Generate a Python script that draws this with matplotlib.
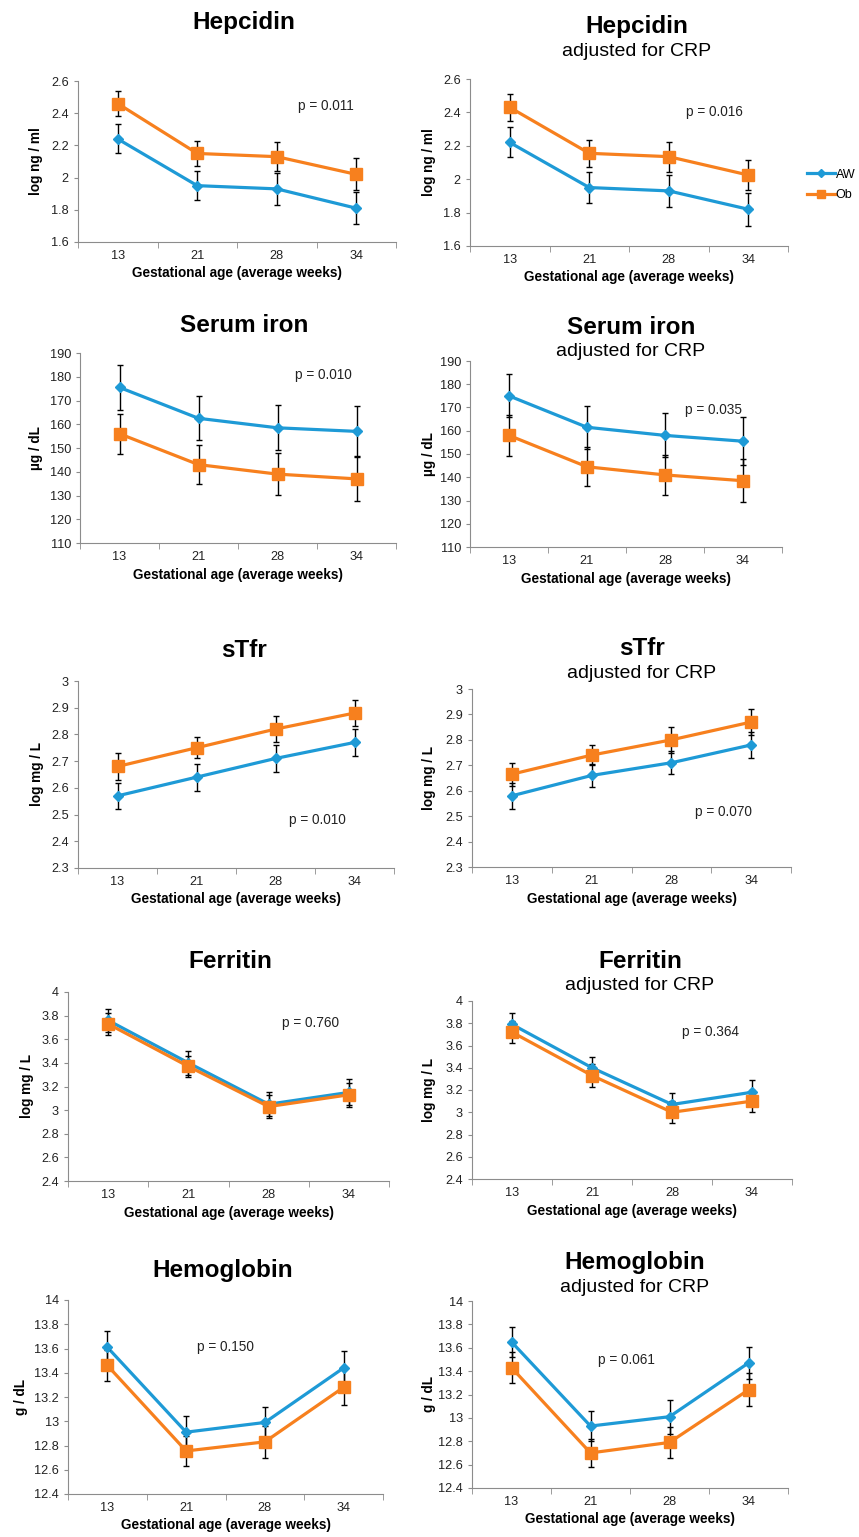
import numpy as np
import matplotlib.pyplot as plt
from matplotlib.lines import Line2D

plt.rcParams['font.family'] = ['Liberation Sans', 'DejaVu Sans']

# gestational age categories
weeks = ['13', '21', '28', '34']

# hepcidin (log ng/ml)
hep_aw = [2.24, 1.95, 1.93, 1.81]
hep_aw_err = [0.09, 0.09, 0.10, 0.10]
hep_ob = [2.46, 2.15, 2.13, 2.02]
hep_ob_err = [0.08, 0.08, 0.09, 0.10]
hep_adj_aw = [2.22, 1.95, 1.93, 1.82]
hep_adj_aw_err = [0.09, 0.095, 0.095, 0.10]
hep_adj_ob = [2.43, 2.155, 2.135, 2.025]
hep_adj_ob_err = [0.08, 0.08, 0.09, 0.09]

# serum iron (ug/dL)
fe_aw = [175.5, 162.5, 158.5, 157.0]
fe_aw_err = [9.3, 9.2, 9.5, 10.5]
fe_ob = [156.0, 143.0, 139.0, 137.0]
fe_ob_err = [8.5, 8.3, 8.7, 9.3]
fe_adj_aw = [175.0, 161.5, 158.0, 155.5]
fe_adj_aw_err = [9.2, 9.2, 9.5, 10.3]
fe_adj_ob = [158.0, 144.5, 141.0, 138.5]
fe_adj_ob_err = [8.7, 8.3, 8.7, 9.2]

# sTfr (log mg/L)
stfr_aw = [2.57, 2.64, 2.71, 2.77]
stfr_aw_err = [0.05, 0.05, 0.05, 0.05]
stfr_ob = [2.68, 2.75, 2.82, 2.88]
stfr_ob_err = [0.05, 0.04, 0.05, 0.05]
stfr_adj_aw = [2.58, 2.66, 2.71, 2.78]
stfr_adj_aw_err = [0.05, 0.045, 0.045, 0.05]
stfr_adj_ob = [2.665, 2.74, 2.80, 2.87]
stfr_adj_ob_err = [0.045, 0.04, 0.05, 0.05]

# ferritin (log mg/L)
ferr_aw = [3.76, 3.40, 3.05, 3.15]
ferr_aw_err = [0.10, 0.10, 0.10, 0.11]
ferr_ob = [3.73, 3.37, 3.03, 3.13]
ferr_ob_err = [0.09, 0.09, 0.095, 0.10]
ferr_adj_aw = [3.79, 3.40, 3.07, 3.18]
ferr_adj_aw_err = [0.10, 0.10, 0.10, 0.11]
ferr_adj_ob = [3.72, 3.33, 3.00, 3.10]
ferr_adj_ob_err = [0.10, 0.10, 0.10, 0.10]

# hemoglobin (g/dL)
hb_aw = [13.61, 12.91, 12.99, 13.44]
hb_aw_err = [0.135, 0.13, 0.13, 0.14]
hb_ob = [13.46, 12.755, 12.83, 13.28]
hb_ob_err = [0.13, 0.12, 0.13, 0.15]
hb_adj_aw = [13.65, 12.93, 13.01, 13.47]
hb_adj_aw_err = [0.13, 0.13, 0.145, 0.14]
hb_adj_ob = [13.43, 12.70, 12.79, 13.24]
hb_adj_ob_err = [0.13, 0.12, 0.13, 0.14]

p_values = ['p = 0.011', 'p = 0.016', 'p = 0.010', 'p = 0.035', 'p = 0.010',
            'p = 0.070', 'p = 0.760', 'p = 0.364', 'p = 0.150', 'p = 0.061']

W, H = 859, 1537
BLUE = '#1E9AD6'
ORANGE = '#F7801E'
GREY = '#8C8C8C'

fig = plt.figure(figsize=(W / 100, H / 100), dpi=100)


def box(l, r, t, b):
    return [l / W, 1 - b / H, (r - l) / W, (b - t) / H]


# (data, axes box px, title, subtitle?, title centre px, ylim, step, ylabel, ylabel x px, p pos)
panels = [
    (hep_aw, hep_aw_err, hep_ob, hep_ob_err, (78, 396, 81, 242), 'Hepcidin', False, (244, 23),
     (1.6, 2.6), 0.2, 'log ng / ml', 43, (0.78, 0.845)),
    (hep_adj_aw, hep_adj_aw_err, hep_adj_ob, hep_adj_ob_err, (470, 788, 79, 246), 'Hepcidin', True, (637, 27),
     (1.6, 2.6), 0.2, 'log ng / ml', 436, (0.77, 0.80)),
    (fe_aw, fe_aw_err, fe_ob, fe_ob_err, (80, 396, 353, 543), 'Serum iron', False, (244, 326),
     (110, 190), 10, 'µg / dL', 43, (0.77, 0.884)),
    (fe_adj_aw, fe_adj_aw_err, fe_adj_ob, fe_adj_ob_err, (470, 782, 361, 547), 'Serum iron', True, (631, 327),
     (110, 190), 10, 'µg / dL', 436, (0.78, 0.737)),
    (stfr_aw, stfr_aw_err, stfr_ob, stfr_ob_err, (78, 394, 681, 868), 'sTfr', False, (244, 651),
     (2.3, 3.0), 0.1, 'log mg / L', 44, (0.756, 0.257)),
    (stfr_adj_aw, stfr_adj_aw_err, stfr_adj_ob, stfr_adj_ob_err, (472, 791, 689, 867), 'sTfr', True, (642, 649),
     (2.3, 3.0), 0.1, 'log mg / L', 436, (0.787, 0.31)),
    (ferr_aw, ferr_aw_err, ferr_ob, ferr_ob_err, (68, 389, 992, 1181), 'Ferritin', False, (230, 962),
     (2.4, 4.0), 0.2, 'log mg / L', 34, (0.754, 0.836)),
    (ferr_adj_aw, ferr_adj_aw_err, ferr_adj_ob, ferr_adj_ob_err, (472, 792, 1001, 1179), 'Ferritin', True, (640, 962),
     (2.4, 4.0), 0.2, 'log mg / L', 436, (0.744, 0.826)),
    (hb_aw, hb_aw_err, hb_ob, hb_ob_err, (68, 383, 1300, 1494), 'Hemoglobin', False, (223, 1270),
     (12.4, 14.0), 0.2, 'g / dL', 28, (0.50, 0.758)),
    (hb_adj_aw, hb_adj_aw_err, hb_adj_ob, hb_adj_ob_err, (472, 788, 1301, 1488), 'Hemoglobin', True, (635, 1263),
     (12.4, 14.0), 0.2, 'g / dL', 436, (0.49, 0.684)),
]

x = np.arange(len(weeks))
for i, (aw, aw_e, ob, ob_e, bx, title, adj, tpos, ylim, step, ylab, ylx, ppos) in enumerate(panels):
    l, r, t, b = bx
    ax = fig.add_axes(box(l, r, t, b))
    for y, e, c, m, ms in [(aw, aw_e, BLUE, 'D', 5), (ob, ob_e, ORANGE, 's', 8)]:
        ax.plot(x, y, color=c, lw=2.3, zorder=2)
        ax.errorbar(x, y, yerr=e, fmt='none', ecolor='black', elinewidth=1,
                    capsize=2.3, capthick=1, zorder=3)
        ax.plot(x, y, ls='none', marker=m, ms=ms, color=c, zorder=4)

    ax.set_xlim(-0.5, 3.5)
    ax.set_ylim(*ylim)
    ticks = np.round(np.arange(ylim[0], ylim[1] + step / 2, step), 2)
    ax.set_yticks(ticks)
    ax.set_yticklabels(['%g' % v for v in ticks])
    ax.set_xticks(x)
    ax.set_xticklabels(weeks)
    ax.set_xticks(np.arange(-0.5, 4, 1), minor=True)
    ax.tick_params(axis='x', which='major', length=0, pad=6, labelsize=9.2, labelcolor='#222222')
    ax.tick_params(axis='x', which='minor', length=4, color=GREY, direction='out')
    ax.tick_params(axis='y', length=3, color=GREY, pad=3.5, labelsize=9.2, labelcolor='#222222')
    for s in ['top', 'right']:
        ax.spines[s].set_visible(False)
    for s in ['left', 'bottom']:
        ax.spines[s].set_color(GREY)
    ax.set_xlabel('Gestational age (average weeks)', fontsize=9.8, fontweight='bold', labelpad=3)
    ax.set_ylabel(ylab, fontsize=9.8, fontweight='bold')
    ax.yaxis.set_label_coords(-(l - ylx) / (r - l), 0.5)
    ax.text(ppos[0], ppos[1], p_values[i], transform=ax.transAxes, fontsize=9.8,
            ha='center', va='center', color='#222222')

    fig.text(tpos[0] / W, 1 - tpos[1] / H, title, fontsize=17.5, fontweight='bold',
             ha='center', va='center')
    if adj:
        fig.text(tpos[0] / W, 1 - (tpos[1] + 24) / H, 'adjusted for CRP', fontsize=14,
                 ha='center', va='center')

handles = [Line2D([], [], color=BLUE, lw=2.3, marker='D', ms=4),
           Line2D([], [], color=ORANGE, lw=2.3, marker='s', ms=6)]
fig.legend(handles, ['AW', 'Ob'], loc='center left', bbox_to_anchor=(807 / W, 1 - 185 / H),
           frameon=False, fontsize=9, handlelength=2.2, handletextpad=0.1, labelspacing=0.7,
           borderpad=0, borderaxespad=0)

fig.savefig('out.png', dpi=100)
